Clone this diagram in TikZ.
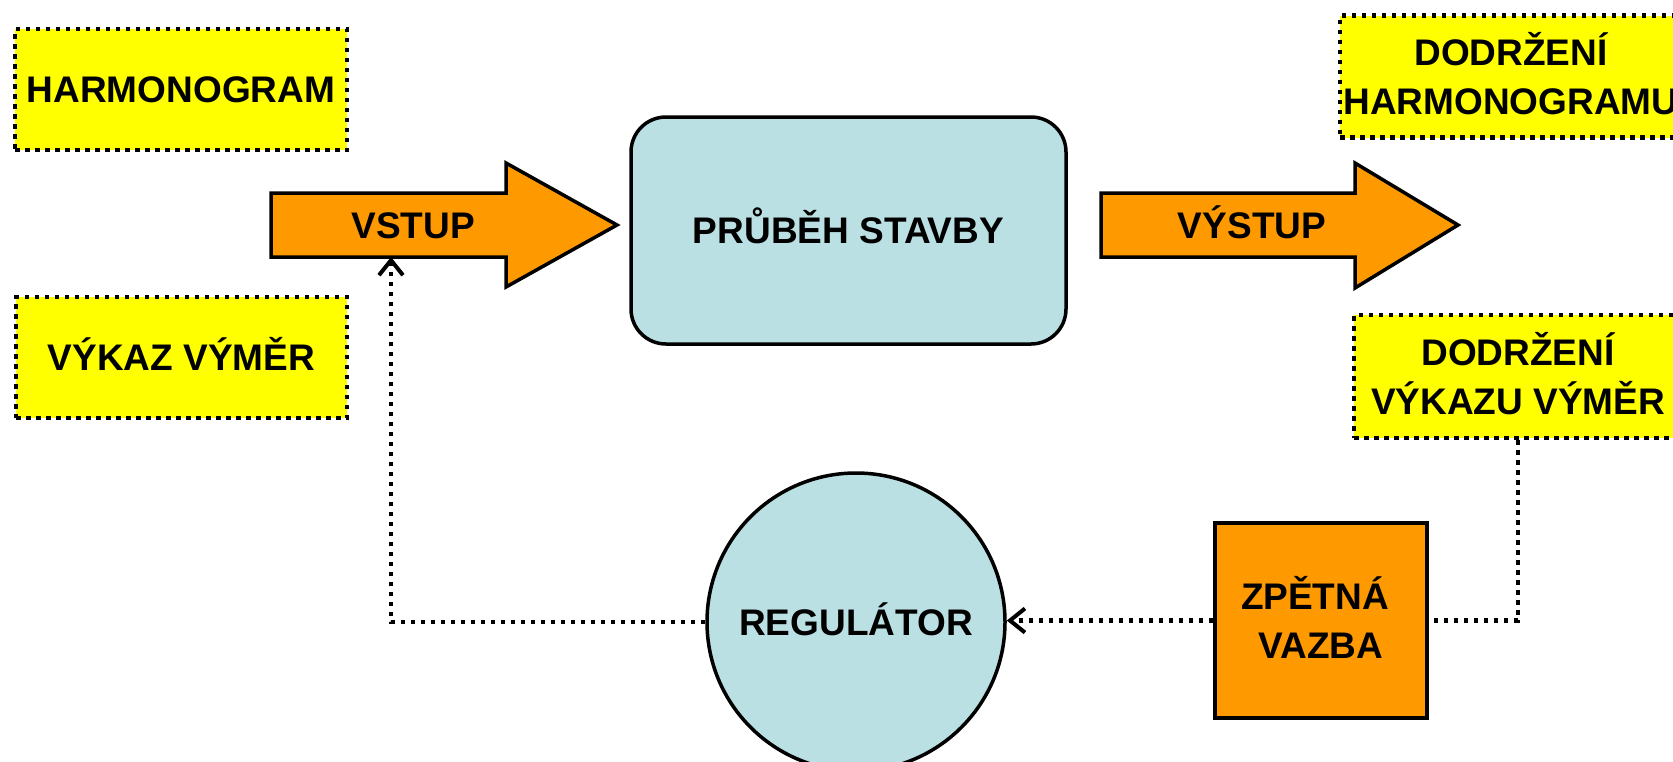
\documentclass[tikz,border=0pt]{standalone}
\usepackage{fontspec}
\setmainfont{Liberation Sans}
\usetikzlibrary{arrows.meta}
\definecolor{boxyellow}{HTML}{FFFF00}
\definecolor{boxorange}{HTML}{FF9900}
\definecolor{boxblue}{HTML}{BBE0E3}
\newcommand{\cstrut}{\rule[-0.284em]{0pt}{1.284em}}
\tikzset{
  every node/.style={font=\fontsize{37}{44}\selectfont\bfseries, align=center, inner sep=0pt},
  dotbox/.style={draw=black, fill=boxyellow, line width=4.3pt, dash pattern=on 4.5pt off 5.5pt},
  solidshape/.style={draw=black, line width=3.5pt},
  bigarrow/.style={draw=black, fill=boxorange, line width=3.5pt, line join=miter},
  conn/.style={draw=black, line width=4.5pt, dash pattern=on 4.5pt off 5.5pt},
  conntip/.style={-{Straight Barb[length=15pt,width=24pt,line width=4pt]}},
}
\begin{document}
\begin{tikzpicture}[x=1pt,y=-1pt]
\useasboundingbox (0,0) rectangle (1673,761);
\clip (0,0) rectangle (1673,761);

% yellow dotted boxes
\node[dotbox, minimum width=332pt, minimum height=121pt] (harmo) at (181,89.5) {\cstrut HARMONOGRAM};
\node[dotbox, minimum width=331pt, minimum height=121pt] (vykaz) at (181.5,357.5) {\cstrut VÝKAZ VÝMĚR};
\node[dotbox, minimum width=342pt, minimum height=122pt] (dodrzH) at (1511,76.5) {\cstrut DODRŽENÍ\\\cstrut HARMONOGRAMU};
\node[dotbox, minimum width=328pt, minimum height=123pt] (dodrzV) at (1518,376.5) {\cstrut DODRŽENÍ\\\cstrut VÝKAZU VÝMĚR};

% big arrows
\filldraw[bigarrow] (271,193) -- (506,193) -- (506,163) -- (617,225) -- (506,287) -- (506,257) -- (271,257) -- cycle;
\node (vstup) at (413,225) {\cstrut VSTUP};
\coordinate (vstupfoot) at (391,257);

\filldraw[bigarrow] (1101,193) -- (1355,193) -- (1355,163) -- (1458,225) -- (1355,288) -- (1355,257) -- (1101,257) -- cycle;
\node (vystup) at (1252,225) {\cstrut VÝSTUP};

% process box
\node[solidshape, fill=boxblue, rounded corners=35pt, minimum width=435pt, minimum height=227pt] (prubeh) at (848.5,230.5) {\cstrut PRŮBĚH STAVBY};

% regulator
\node[solidshape, fill=boxblue, circle, minimum size=298pt] (regulator) at (856,622) {\cstrut REGULÁTOR};

% feedback
\node[solidshape, fill=boxorange, minimum width=212pt, minimum height=195pt] (zpetna) at (1321,620.5) {\cstrut ZPĚTNÁ\hspace*{12pt}\\\cstrut VAZBA};

% dotted connectors
\draw[conn] (dodrzV.south) |- (zpetna.east);
\draw[conn, conntip] (zpetna.west) -- (zpetna.west -| regulator.east);
\draw[conn, conntip] (regulator.west) -| (vstupfoot);
\end{tikzpicture}
\end{document}
